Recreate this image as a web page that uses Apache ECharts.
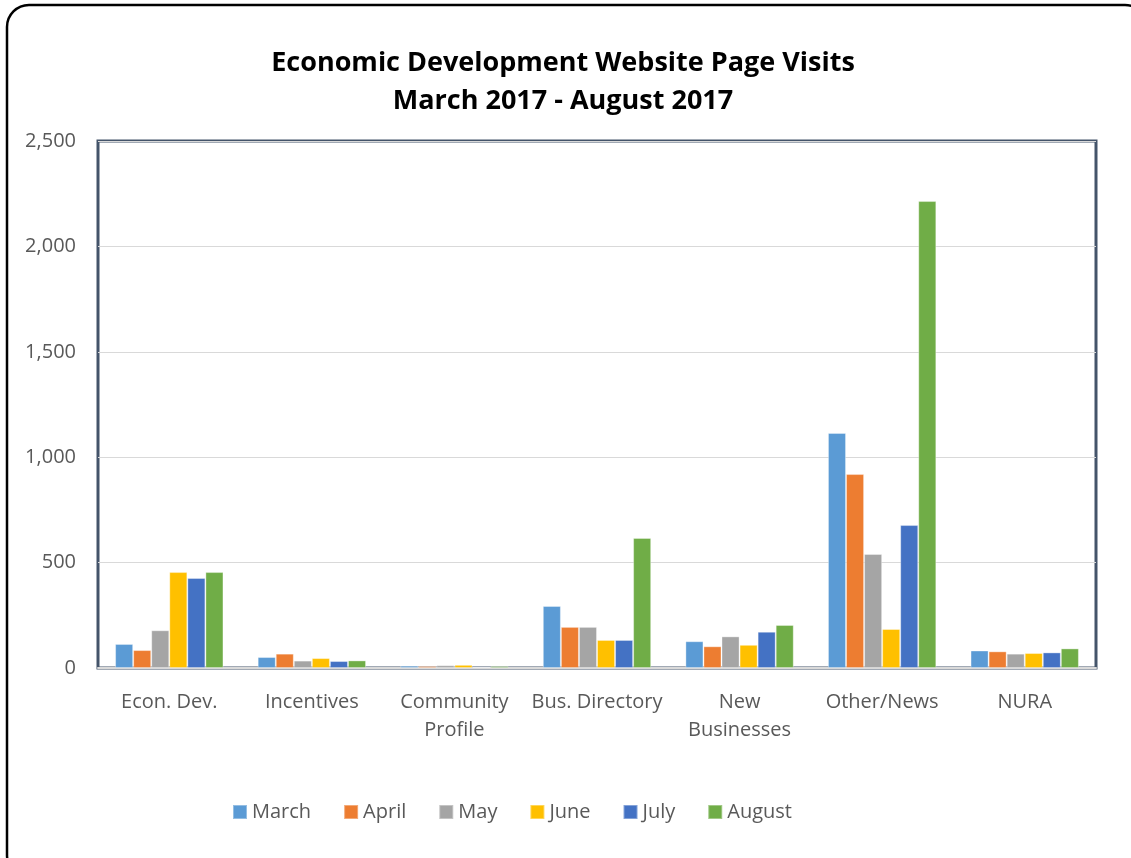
<!DOCTYPE html>
<html>
<head>
<meta charset="utf-8">
<script src="https://cdn.jsdelivr.net/npm/echarts@6/dist/echarts.min.js"></script>
<style>
html,body{margin:0;padding:0;background:#fff;}
#c{width:1131px;height:858px;}
</style>
</head>
<body>
<div id="c"></div>
<script>
const categories = ['Econ. Dev.', 'Incentives', 'Community\nProfile', 'Bus. Directory', 'New\nBusinesses', 'Other/News', 'NURA'];
const yTicks = [0, 500, 1000, 1500, 2000, 2500];
const march  = [114, 52, 11, 294, 127, 1115, 83];
const april  = [85, 68, 9, 195, 103, 920, 79];
const may    = [179, 35, 13, 195, 150, 541, 68];
const june   = [455, 47, 15, 133, 110, 185, 71];
const july   = [427, 33, 5, 133, 172, 678, 74];
const august = [455, 36, 9, 617, 204, 2215, 93];

const seriesDefs = [
  ['March', march, '#5b9bd5'],
  ['April', april, '#ed7d31'],
  ['May', may, '#a5a5a5'],
  ['June', june, '#ffc000'],
  ['July', july, '#4472c4'],
  ['August', august, '#70ad47']
];

const font = "'Open Sans', 'Liberation Sans', sans-serif";
const chart = echarts.init(document.getElementById('c'), null, {renderer: 'canvas'});
chart.setOption({
  animation: false,
  backgroundColor: '#fff',
  title: {
    text: 'Economic Development Website Page Visits\nMarch 2017 - August 2017',
    left: 558,
    textAlign: 'center',
    top: 39,
    textStyle: {fontFamily: font, fontWeight: 'bold', fontSize: 27, color: '#000', lineHeight: 38}
  },
  legend: {
    bottom: 36,
    left: 232,
    padding: 0,
    itemWidth: 14,
    itemHeight: 14,
    itemGap: 32,
    icon: 'rect',
    textStyle: {fontFamily: font, fontSize: 20, color: '#595959'},
    data: seriesDefs.map(s => s[0])
  },
  grid: {
    left: 98, top: 141, width: 998, height: 527,
    show: true, borderColor: '#44546a', borderWidth: 3, backgroundColor: 'transparent'
  },
  xAxis: {
    type: 'category',
    data: categories,
    axisTick: {show: false},
    axisLine: {show: true, lineStyle: {color: '#d9d9d9', width: 2}},
    axisLabel: {fontFamily: font, fontSize: 20, color: '#595959', margin: 20, lineHeight: 28, interval: 0}
  },
  yAxis: {
    type: 'value',
    min: yTicks[0],
    max: yTicks[yTicks.length - 1],
    interval: yTicks[1] - yTicks[0],
    axisLine: {show: false},
    axisTick: {show: false},
    splitLine: {lineStyle: {color: '#d9d9d9', width: 1}},
    axisLabel: {
      fontFamily: font, fontSize: 20, color: '#595959', margin: 22,
      formatter: v => v.toLocaleString('en-US')
    }
  },
  series: seriesDefs.map(([name, data, color]) => ({
    name, type: 'bar', data,
    barGap: '0%', barCategoryGap: '24%',
    itemStyle: {color, borderColor: 'rgba(255,255,255,0.35)', borderWidth: 1}
  })),
  graphic: [{
    type: 'rect',
    shape: {x: 7, y: 5, width: 1140, height: 872, r: 22},
    style: {fill: 'none', stroke: '#000', lineWidth: 2.5},
    silent: true
  }]
});
</script>
</body>
</html>
